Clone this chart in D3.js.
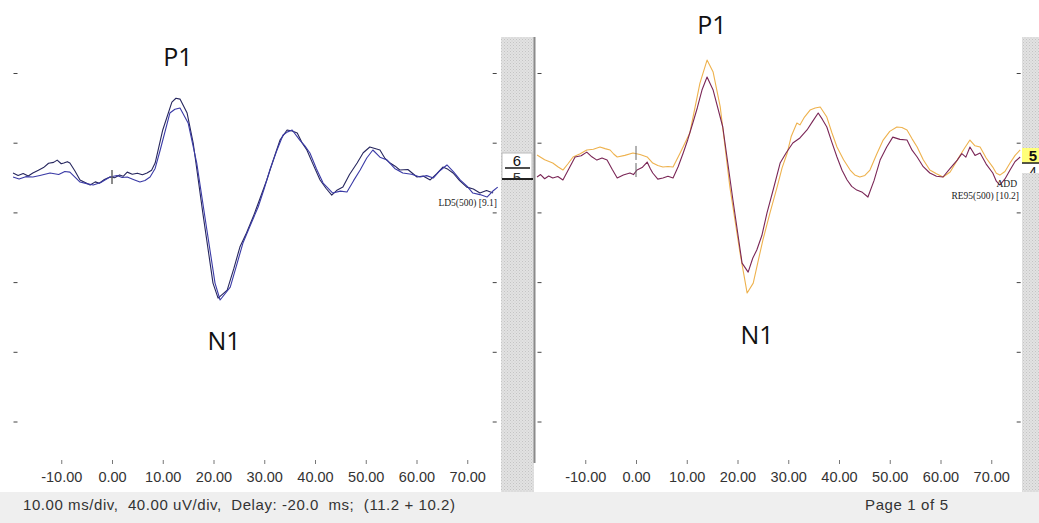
<!DOCTYPE html>
<html lang="en">
<head>
<meta charset="utf-8">
<title>ABR traces</title>
<script src="https://cdn.jsdelivr.net/npm/d3@7/dist/d3.min.js"></script>
<style>
  body { margin: 0; background: #fff; }
  svg { display: block; }
</style>
</head>
<body>
<script type="text/javascript">

// tick labels
var timeTicks = [-10, 0, 10, 20, 30, 40, 50, 60, 70];
var uvTicks = [60, 20, -20, -60, -100, -140];

// left ear, two repeats  [ms, uV]
var leftA = [[-19.5,2.9],[-18.5,1.5],[-17.5,2.6],[-16.5,1.2],[-15.6,2.9],[-14.5,4.5],[-13.5,6.0],[-12.5,8.5],
  [-11.5,9.0],[-10.8,10.3],[-10.0,8.2],[-9.5,8.6],[-8.8,9.4],[-8.3,8.6],[-7.3,4.0],[-6.3,-1.1],[-5.3,-2.5],
  [-4.3,-4.0],[-3.3,-2.2],[-2.5,-3.0],[-1.5,-0.8],[-0.4,0.6],[0.5,0.2],[1.5,1.8],[2.2,1.0],[3.0,3.4],
  [4.0,2.2],[5.0,2.8],[6.0,1.9],[6.9,2.9],[7.8,4.5],[8.5,8.6],[10.0,27.6],
  [11.8,43.6],[12.6,45.8],[13.4,45.3],[14.8,37.3],[16.0,20.1],[17.9,-20.1],[19.9,-60.3],[20.9,-68.9],[22.7,-64.3],
  [24.0,-52.0],[25.2,-39.6],[26.5,-31.5],[27.8,-22.4],[29.0,-13.0],[30.5,-1.1],[31.8,10.5],[33.1,21.8],
  [34.5,27.6],[35.5,27.0],[36.5,25.8],[37.4,20.5],[38.4,16.1],[39.6,8.0],[41.0,-1.1],[42.2,-6.0],
  [43.3,-9.8],[44.4,-6.8],[45.5,-5.2],[46.8,2.0],[48.3,8.6],[49.5,14.5],[50.8,17.8],[51.8,17.0],[52.8,16.1],
  [53.8,11.2],[54.8,8.6],[55.8,6.8],[56.7,4.6],[58.3,4.9],[60.1,0.6],[61.3,1.2],[62.7,-1.1],[64.0,2.5],
  [65.2,6.3],[66.2,5.0],[67.2,2.9],[68.5,-1.5],[69.9,-5.2],[71.2,-6.3],[72.5,-8.6],[73.8,-7.2],[75.1,-8.6]];
var leftB = [[-19.5,0.6],[-18.3,-0.5],[-17.0,0.8],[-15.6,0.6],[-14.2,1.5],[-12.2,2.9],[-10.5,2.0],[-9.3,3.8],
  [-8.3,3.4],[-7.3,0.5],[-6.3,-2.3],[-5.0,-3.2],[-3.7,-4.0],[-2.2,-2.5],[-0.4,0.6],[1.0,1.5],[2.0,0.3],
  [3.0,0.6],[4.2,-0.8],[5.5,-2.3],[6.5,-1.4],[7.5,0.6],[8.5,5.5],[9.5,16.1],[11.4,37.3],[12.4,39.5],[13.4,40.2],
  [15.0,31.6],[16.7,8.6],[18.7,-29.8],[20.3,-60.3],[21.3,-70.0],[23.3,-62.6],[24.5,-50.5],[25.8,-37.3],
  [27.2,-27.5],[28.8,-16.6],[30.0,-6.0],[31.1,4.6],[32.4,15.2],[33.7,24.7],[34.6,26.5],[35.5,27.6],
  [37.0,21.8],[38.0,18.5],[39.0,14.4],[40.3,5.2],[41.6,-2.9],[43.5,-8.6],[45.0,-7.5],[46.3,-8.0],
  [47.6,-1.5],[48.9,4.6],[50.2,11.5],[51.4,16.1],[52.8,12.0],[54.2,10.3],[55.7,5.5],[57.3,2.9],
  [59.0,2.2],[60.7,0.6],[62.0,1.4],[63.3,0.0],[64.6,4.2],[66.0,7.5],[67.3,3.5],[68.6,-1.1],[70.0,-4.8],
  [71.1,-8.6],[72.5,-9.5],[73.9,-10.9],[75.0,-7.6],[76.0,-5.2]];

// right ear  [ms, uV]
var rightOrange = [[-19.5,13.2],[-18.0,10.5],[-16.4,8.6],[-15.4,6.5],[-14.4,4.6],[-13.4,8.2],[-12.4,12.1],
  [-11.0,14.0],[-9.7,16.1],[-8.4,16.5],[-7.1,17.8],[-6.1,16.9],[-5.1,16.1],[-4.4,13.8],[-3.7,12.1],
  [-2.2,13.0],[-0.6,14.4],[0.8,13.5],[2.2,12.1],[3.3,8.6],[4.3,7.2],[5.3,6.3],[6.3,6.6],[7.3,6.3],
  [8.7,14.4],[10.6,25.8],[12.6,54.5],[14.0,67.7],[15.2,60.8],[16.6,40.8],[18.5,-5.2],[20.5,-43.0],
  [21.9,-66.0],[23.1,-60.3],[24.0,-48.5],[25.0,-35.6],[26.4,-20.0],[27.8,-5.2],[28.8,6.0],[29.8,14.4],
  [30.6,24.0],[31.7,31.6],[32.3,30.5],[33.2,35.0],[34.3,39.0],[35.3,40.2],[36.3,40.8],[37.6,35.0],[38.6,26.0],
  [39.6,17.8],[40.9,10.5],[42.2,4.6],[43.1,1.8],[44.1,0.6],[45.1,1.5],[46.1,4.6],[47.4,13.5],[48.7,21.8],
  [50.0,26.8],[51.4,29.3],[52.4,29.0],[53.4,27.6],[54.4,22.5],[55.4,17.8],[56.6,10.5],[57.9,4.6],
  [59.2,2.5],[60.5,0.6],[61.9,3.5],[63.3,10.3],[64.6,16.5],[65.8,21.8],[66.8,18.5],[67.8,17.8],
  [69.0,11.5],[70.3,6.3],[71.0,2.8],[71.7,1.7],[72.7,3.8],[73.7,8.6],[74.7,13.0],[75.7,16.1]];
var rightMaroon = [[-19.5,0.6],[-18.8,2.0],[-18.0,-0.4],[-17.2,1.2],[-16.4,0.0],[-15.4,0.9],[-14.4,-1.1],
  [-13.2,5.5],[-12.0,12.1],[-10.8,12.8],[-9.7,14.9],[-8.7,12.2],[-7.7,10.3],[-6.7,11.5],[-5.7,10.3],
  [-4.7,5.0],[-3.7,0.0],[-2.5,1.8],[-1.2,2.9],[-0.5,2.0],[0.2,4.6],[1.2,6.0],[2.2,9.2],[2.8,5.5],
  [3.3,2.9],[4.3,-0.6],[5.3,0.0],[6.3,1.0],[7.3,0.0],[8.3,6.5],[9.3,14.4],[10.2,22.0],[11.2,31.6],
  [12.1,40.5],[13.0,50.5],[14.0,58.0],[15.2,50.5],[17.1,29.3],[19.1,-12.6],[20.9,-48.8],[22.1,-54.0],
  [23.0,-46.0],[23.8,-41.3],[24.8,-33.0],[25.8,-20.1],[27.1,-6.0],[28.4,8.6],[29.6,14.5],[30.9,20.1],
  [32.3,23.0],[33.7,27.6],[34.8,32.5],[35.9,37.3],[36.7,33.8],[37.6,29.3],[38.6,20.5],[39.6,12.1],
  [40.6,4.5],[41.6,-1.1],[42.5,-4.8],[43.5,-6.9],[44.6,-8.2],[45.7,-10.9],[46.9,-1.5],[48.1,10.3],
  [49.4,17.8],[50.6,23.5],[52.0,22.2],[53.4,21.8],[54.4,16.0],[55.4,12.1],[56.6,6.5],[57.9,2.9],
  [59.2,1.0],[60.5,0.6],[61.9,5.5],[63.3,10.3],[64.2,14.0],[65.0,12.0],[65.8,17.8],[66.8,13.0],
  [67.8,14.4],[69.0,8.0],[70.3,2.9],[71.0,-1.8],[71.7,-4.0],[72.7,-0.5],[73.7,4.6],[74.7,9.5],[75.7,12.1]];

var width = 1039, height = 523;

var svg = d3.select("body").append("svg")
            .attr("width", width)
            .attr("height", height);

var defs = svg.append("defs");

// hatched grey for the side strips
var pat = defs.append("pattern")
             .attr("id", "hatch")
             .attr("width", 3).attr("height", 3)
             .attr("patternUnits", "userSpaceOnUse");
pat.append("rect").attr("width", 3).attr("height", 3).attr("fill", "#e2e2e2");
pat.append("rect").attr("width", 1).attr("height", 1).attr("fill", "#c4c4c4");
pat.append("rect").attr("x", 1.5).attr("y", 1.5).attr("width", 1).attr("height", 1).attr("fill", "#cdcdcd");

// clip for the half-hidden channel digits
defs.append("clipPath").attr("id", "clipL")
    .append("rect").attr("x", 502).attr("y", 169).attr("width", 31).attr("height", 9);
defs.append("clipPath").attr("id", "clipR")
    .append("rect").attr("x", 1022).attr("y", 164).attr("width", 17).attr("height", 9);

var y = d3.scaleLinear().domain([60, -140]).range([73.5, 422]);

var line = function(x){
  return d3.line()
           .x(function(d){ return x(d[0]); })
           .y(function(d){ return y(d[1]); });
};

var fmt = function(d){ return d3.format(".2f")(d).replace("\u2212", "-"); };

// one panel = x scale + traces + ticks
function panel(x0, x1, traces){
  var x = d3.scaleLinear().domain([-20, 76]).range([x0, x1]);
  var g = svg.append("g");

  // y ticks on both edges
  g.selectAll("line.yl").data(uvTicks).enter().append("line")
   .attr("x1", x0 + 3).attr("x2", x0 + 7)
   .attr("y1", function(d){ return y(d); }).attr("y2", function(d){ return y(d); })
   .attr("stroke", "#444").attr("stroke-width", 1);
  g.selectAll("line.yr").data(uvTicks).enter().append("line")
   .attr("x1", x1 - 5).attr("x2", x1 - 1)
   .attr("y1", function(d){ return y(d); }).attr("y2", function(d){ return y(d); })
   .attr("stroke", "#444").attr("stroke-width", 1);

  // time axis
  var axis = d3.axisBottom(x).tickValues(timeTicks).tickSize(4).tickPadding(8)
               .tickFormat(fmt);
  var ag = g.append("g").attr("transform", "translate(0,460)").call(axis);
  ag.select(".domain").remove();
  ag.selectAll("line").attr("stroke", "#777");
  ag.selectAll("text").attr("fill", "#333")
    .attr("font-family", "Liberation Sans, Arial, sans-serif")
    .attr("font-size", 14.5);

  traces.forEach(function(t){
    g.append("path")
     .datum(t.data)
     .attr("fill", "none")
     .attr("stroke", t.color)
     .attr("stroke-width", 1.1)
     .attr("stroke-linejoin", "round")
     .attr("d", line(x));
  });

  // stimulus marks at 0 ms
  traces.forEach(function(t){
    var v = d3.least(t.data, function(d){ return Math.abs(d[0]); })[1];
    g.append("line")
     .attr("x1", x(0)).attr("x2", x(0))
     .attr("y1", y(v) - 7).attr("y2", y(v) + 7)
     .attr("stroke", "#666").attr("stroke-width", 1);
  });

  return x;
}

// side strips
svg.append("rect").attr("x", 501).attr("y", 37).attr("width", 33).attr("height", 455).attr("fill", "url(#hatch)");
svg.append("rect").attr("x", 1022).attr("y", 37).attr("width", 17).attr("height", 455).attr("fill", "url(#hatch)");
svg.append("line").attr("x1", 534.5).attr("x2", 534.5).attr("y1", 37).attr("y2", 463)
   .attr("stroke", "#8a8a8a").attr("stroke-width", 2);

var xl = panel(10.5, 497.7, [
  {data: leftA, color: "#26265e"},
  {data: leftB, color: "#3a3aa6"}
]);
var xr = panel(534.5, 1021.7, [
  {data: rightOrange, color: "#eeb24e"},
  {data: rightMaroon, color: "#7a2656"}
]);

// trace labels
var serif = "Liberation Serif, Times New Roman, serif";
svg.append("text").attr("x", 497).attr("y", 206).attr("text-anchor", "end")
   .attr("font-family", serif).attr("font-size", 9.5)
   .attr("fill", "#222").text("LD5(500) [9.1]");
svg.append("text").attr("x", 1017).attr("y", 187).attr("text-anchor", "end")
   .attr("font-family", serif).attr("font-size", 9.5)
   .attr("fill", "#222").text("ADD");
svg.append("text").attr("x", 1019).attr("y", 199).attr("text-anchor", "end")
   .attr("font-family", serif).attr("font-size", 9.5)
   .attr("fill", "#222").text("RE95(500) [10.2]");

// channel boxes
var sans = "Liberation Sans, Arial, sans-serif";
svg.append("rect").attr("x", 502).attr("y", 153).attr("width", 30).attr("height", 26)
   .attr("fill", "#fff").attr("stroke", "#bbb");
svg.append("text").attr("x", 517).attr("y", 166).attr("text-anchor", "middle")
   .attr("font-family", sans).attr("font-size", 15).attr("fill", "#111").text("6");
svg.append("text").attr("x", 517).attr("y", 183).attr("text-anchor", "middle")
   .attr("clip-path", "url(#clipL)")
   .attr("font-family", sans).attr("font-size", 15).attr("fill", "#333").text("5");
svg.append("line").attr("x1", 505).attr("x2", 530).attr("y1", 168).attr("y2", 168).attr("stroke", "#222").attr("stroke-width", 1.6);
svg.append("line").attr("x1", 502).attr("x2", 533).attr("y1", 179).attr("y2", 179).attr("stroke", "#222").attr("stroke-width", 2);

svg.append("rect").attr("x", 1022).attr("y", 148).attr("width", 17).attr("height", 15).attr("fill", "#ffff7a");
svg.append("text").attr("x", 1033).attr("y", 161).attr("text-anchor", "middle")
   .attr("font-family", sans).attr("font-size", 15).attr("font-weight", "bold").attr("fill", "#111").text("5");
svg.append("line").attr("x1", 1022).attr("x2", 1039).attr("y1", 163).attr("y2", 163).attr("stroke", "#222").attr("stroke-width", 1.5);
svg.append("rect").attr("x", 1022).attr("y", 164).attr("width", 17).attr("height", 9).attr("fill", "#fff");
svg.append("text").attr("x", 1033).attr("y", 177).attr("text-anchor", "middle")
   .attr("clip-path", "url(#clipR)")
   .attr("font-family", sans).attr("font-size", 14).attr("fill", "#222").text("4");

// peak names
var peaks = [
  {t: "P1", x: 178, y: 66}, {t: "N1", x: 224, y: 350},
  {t: "P1", x: 712, y: 34}, {t: "N1", x: 757, y: 344}
];
svg.selectAll("text.peak").data(peaks).enter().append("text")
   .attr("class", "peak")
   .attr("x", function(d){ return d.x; }).attr("y", function(d){ return d.y; })
   .attr("text-anchor", "middle")
   .attr("font-family", "Open Sans, Noto Sans, sans-serif").attr("font-size", 25)
   .attr("fill", "#111").text(function(d){ return d.t; });

// status bar
svg.append("rect").attr("x", 0).attr("y", 492).attr("width", width).attr("height", 31).attr("fill", "#efefef");
svg.append("text").attr("x", 23).attr("y", 510)
   .attr("font-family", sans).attr("font-size", 15).attr("fill", "#333")
   .attr("textLength", 432).attr("lengthAdjust", "spacing")
   .style("white-space", "pre")
   .text("10.00 ms/div,  40.00 uV/div,  Delay: -20.0  ms;  (11.2 + 10.2)");
svg.append("text").attr("x", 865).attr("y", 510)
   .attr("font-family", sans).attr("font-size", 15).attr("fill", "#333")
   .attr("textLength", 83).attr("lengthAdjust", "spacing")
   .text("Page 1 of 5");

</script>
</body>
</html>
